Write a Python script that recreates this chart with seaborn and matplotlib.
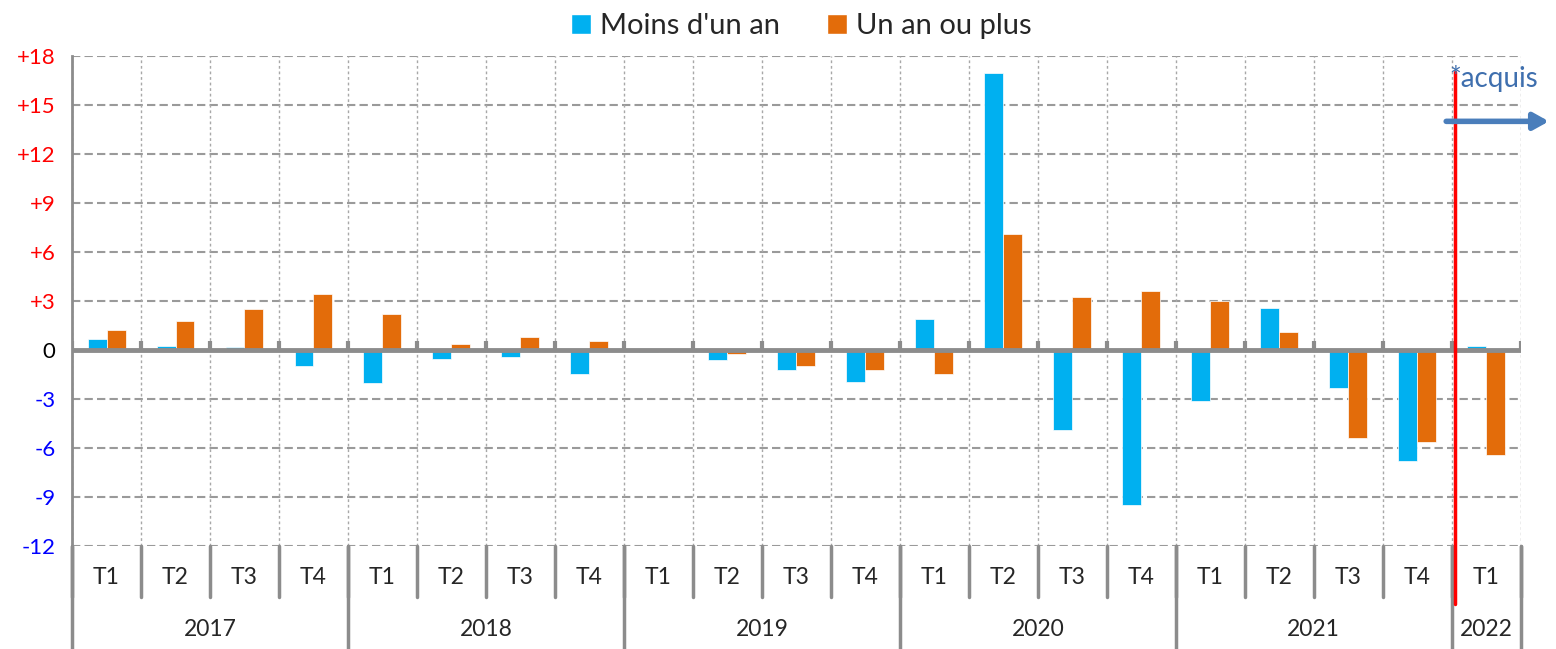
import pandas as pd
import seaborn as sns
import matplotlib.pyplot as plt
import matplotlib.transforms as mtransforms
from matplotlib.patches import Patch

# data
quarters = ["T1", "T2", "T3", "T4"] * 5 + ["T1"]
years = ["2017", "2018", "2019", "2020", "2021", "2022"]
year_sizes = [4, 4, 4, 4, 4, 1]
moins_un_an = [0.67, 0.25, 0.2, -1.0, -2.05, -0.55, -0.4, -1.45, -0.15, -0.6, -1.2, -1.95,
               1.9, 16.95, -4.9, -9.5, -3.15, 2.55, -2.35, -6.8, 0.27]
un_an_ou_plus = [1.22, 1.75, 2.5, 3.4, 2.2, 0.35, 0.82, 0.55, 0.0, -0.25, -0.95, -1.2,
                 -1.45, 7.1, 3.27, 3.6, 3.0, 1.12, -5.4, -5.65, -6.4]
yticks = [-12, -9, -6, -3, 0, 3, 6, 9, 12, 15, 18]

series = ["Moins d'un an", "Un an ou plus"]
colors = ["#00B0F0", "#E36C0A"]

n = len(quarters)
df = pd.DataFrame({
    "idx": list(range(n)) * 2,
    "valeur": moins_un_an + un_an_ou_plus,
    "serie": [series[0]] * n + [series[1]] * n,
})

sns.set_style("white")
plt.rcParams['font.family'] = ['Lato', 'DejaVu Sans']

fig = plt.figure(figsize=(15.56, 6.49), dpi=100)
ax = fig.add_axes([0.0463, 0.1587, 0.931, 0.755])

sns.barplot(data=df, x="idx", y="valeur", hue="serie", palette=colors,
            saturation=1, width=0.55, gap=0, edgecolor="white", linewidth=0.5,
            legend=False, ax=ax, zorder=3)

grey = "#8c8c8c"
ax.set_xlim(-0.5, n - 0.5)
ax.set_ylim(-12, 18)
ax.set_xlabel("")
ax.set_ylabel("")

# grid
ax.set_yticks(yticks)
for y in yticks:
    if y != 0:
        ax.axhline(y, color="#9a9a9a", lw=1.5, ls=(0, (4, 2)), zorder=1)
for k in range(n + 1):
    ax.axvline(k - 0.5, color="#a8a8a8", lw=1, ls=(0, (2, 2)), zorder=1)

ax.axhline(0, color=grey, lw=3.5, zorder=4)
ax.vlines([k - 0.5 for k in range(n + 1)], -0.1, 0.55, color=grey, lw=3, zorder=4)

for s in ["top", "right", "bottom"]:
    ax.spines[s].set_visible(False)
ax.spines["left"].set_color(grey)
ax.spines["left"].set_linewidth(2)

labels = []
for y in yticks:
    labels.append("+%d" % y if y > 0 else "%d" % y)
ax.set_yticklabels(labels, fontsize=16)
for t, y in zip(ax.get_yticklabels(), yticks):
    t.set_color("red" if y > 0 else ("#0000FF" if y < 0 else "black"))
ax.tick_params(axis="y", direction="inout", length=8, width=1.5, color=grey, pad=8)
ax.set_xticks([])

# category axis below the plot
trans = mtransforms.blended_transform_factory(ax.transData, ax.transAxes)
for k in range(n + 1):
    ax.plot([k - 0.5, k - 0.5], [0, -0.105], transform=trans, color=grey,
            lw=2.5, clip_on=False)
for i, q in enumerate(quarters):
    ax.text(i, -0.065, q, transform=trans, ha="center", va="center", fontsize=16.5)
start = 0
for yr, size in zip(years, year_sizes):
    ax.plot([start - 0.5, start - 0.5], [0, -0.21], transform=trans, color=grey,
            lw=2.5, clip_on=False)
    ax.text(start + size / 2 - 0.5, -0.17, yr, transform=trans, ha="center",
            va="center", fontsize=16.5)
    start += size
ax.plot([start - 0.5, start - 0.5], [0, -0.21], transform=trans, color=grey,
        lw=2.5, clip_on=False)

# forecast marker
ax.plot([19.55, 19.55], [0.967, -0.118], transform=trans, color="red", lw=2.5,
        clip_on=False, zorder=6)
ax.annotate("", xy=(20.95, 14.0), xytext=(19.38, 14.0), annotation_clip=False,
            arrowprops=dict(arrowstyle="-|>,head_length=0.9,head_width=0.5",
                            color="#4A7EBB", lw=4), zorder=7)
ax.text(19.47, 16.6, "*acquis", color="#3F6FAE", fontsize=20, ha="left",
        va="center", zorder=7)

handles = [Patch(facecolor=c, label=s) for c, s in zip(colors, series)]
fig.legend(handles=handles, loc="upper center", bbox_to_anchor=(0.515, 1.02),
           ncol=2, frameon=False, fontsize=21, handlelength=0.7,
           handleheight=0.7, handletextpad=0.3, columnspacing=1.6)

fig.savefig("out.png", dpi=100)
